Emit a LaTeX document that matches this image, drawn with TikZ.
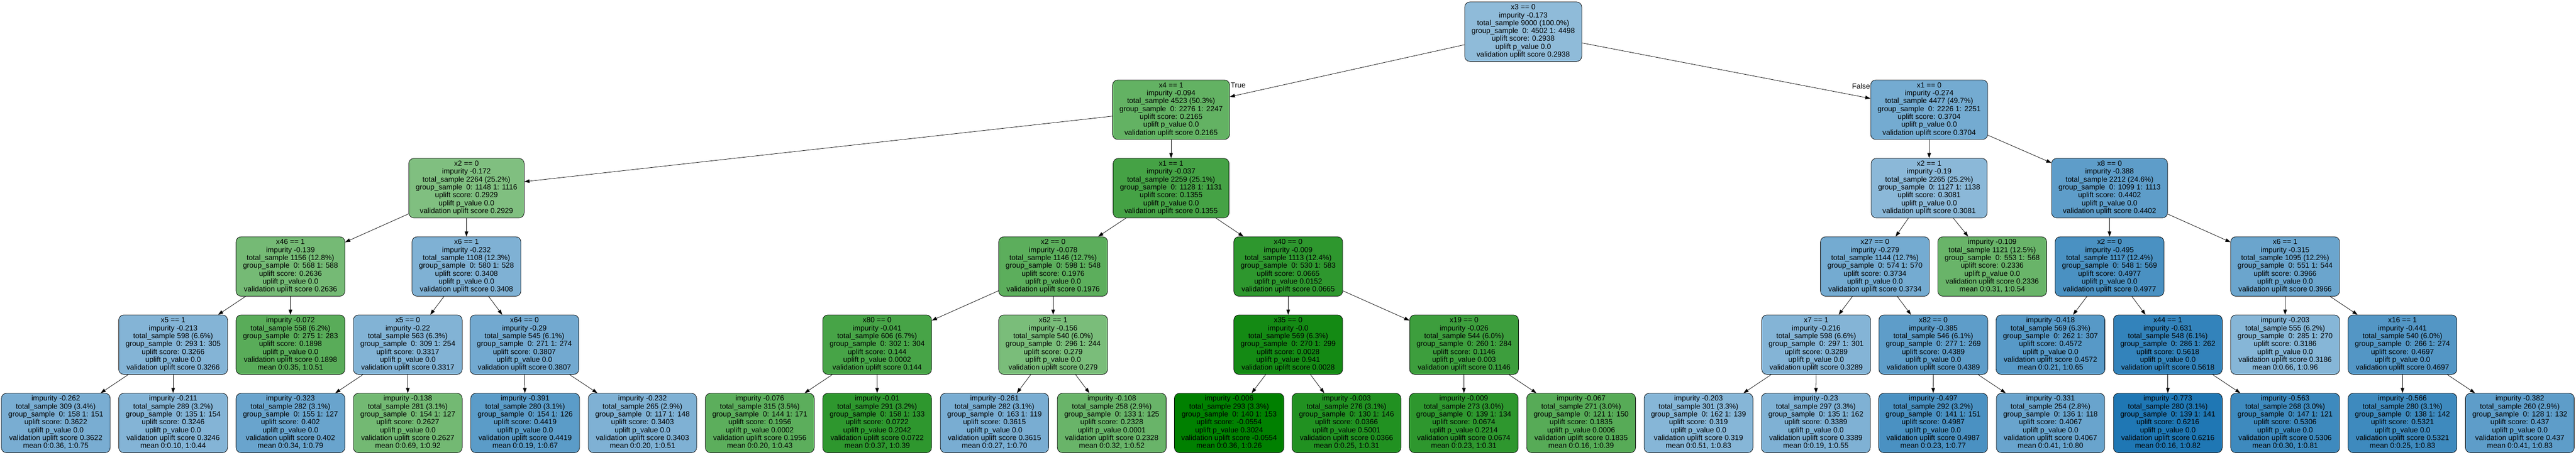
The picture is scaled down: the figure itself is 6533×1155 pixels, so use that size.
\documentclass[tikz,border=0pt]{standalone}
\usepackage{fontspec}
\setmainfont{Liberation Sans}
\usetikzlibrary{arrows.meta}
\definecolor{bl}{HTML}{1F77B4}
\definecolor{gr}{HTML}{008000}
\newcommand{\TreeInner}[7]{\begin{tabular}{@{}c@{}}#1\\impurity #2\\total\_sample #3\\group\_sample\ \ #4\\uplift score: #5\\uplift p\_value #6\\validation uplift score #7\end{tabular}}
\newcommand{\TreeLeaf}[7]{\begin{tabular}{@{}c@{}}impurity #1\\total\_sample #2\\group\_sample\ \ #3\\uplift score: #4\\uplift p\_value #5\\validation uplift score #6\\mean #7\end{tabular}}
\begin{document}
\begin{tikzpicture}[x=0.5pt,y=-0.5pt,
  nb/.style={rectangle, rounded corners=6.5pt, draw=black, line width=0.5pt,
    inner xsep=8.75pt, inner ysep=0pt, minimum width=136pt, minimum height=75.5pt,
    font=\fontsize{9.33pt}{10pt}\selectfont, text=black},
  lbl/.style={font=\fontsize{9.33pt}{10pt}\selectfont, inner sep=0pt, text=black},
  edge/.style={draw=black, line width=0.5pt, -{Triangle[length=6.5pt,width=4.5pt]}}]
\fill[white] (0,0) rectangle (6533,1155);
\useasboundingbox (0,0) rectangle (6533,1155);
% row 0
\node[nb, fill=bl!50!white] (R) at (3863,80.5) {\TreeInner{x3 == 0}{-0.173}{9000 (100.0\%)}{0: 4502 1: 4498}{0.2938}{0.0}{0.2938}};
% row 1
\node[nb, fill=gr!61!white] (A) at (2970,278.5) {\TreeInner{x4 == 1}{-0.094}{4523 (50.3\%)}{0: 2276 1: 2247}{0.2165}{0.0}{0.2165}};
\node[nb, fill=bl!62!white] (B) at (4892.5,278.5) {\TreeInner{x1 == 0}{-0.274}{4477 (49.7\%)}{0: 2226 1: 2251}{0.3704}{0.0}{0.3704}};
% row 2
\node[nb, fill=gr!50!white] (C) at (1183,477.5) {\TreeInner{x2 == 0}{-0.172}{2264 (25.2\%)}{0: 1148 1: 1116}{0.2929}{0.0}{0.2929}};
\node[nb, fill=gr!73!white] (D) at (2970,477.5) {\TreeInner{x1 == 1}{-0.037}{2259 (25.1\%)}{0: 1128 1: 1131}{0.1355}{0.0}{0.1355}};
\node[nb, fill=bl!52!white] (E) at (4892.5,477.5) {\TreeInner{x2 == 1}{-0.19}{2265 (25.2\%)}{0: 1127 1: 1138}{0.3081}{0.0}{0.3081}};
\node[nb, fill=bl!72!white] (F) at (5350,477.5) {\TreeInner{x8 == 0}{-0.388}{2212 (24.6\%)}{0: 1099 1: 1113}{0.4402}{0.0}{0.4402}};
% row 3
\node[nb, fill=gr!54!white] (G) at (736.6,676.5) {\TreeInner{x46 == 1}{-0.139}{1156 (12.8\%)}{0: 568 1: 588}{0.2636}{0.0}{0.2636}};
\node[nb, fill=bl!57!white] (H) at (1183,676.5) {\TreeInner{x6 == 1}{-0.232}{1108 (12.3\%)}{0: 580 1: 528}{0.3408}{0.0}{0.3408}};
\node[nb, fill=gr!64!white] (I) at (2670.9,676.5) {\TreeInner{x2 == 0}{-0.078}{1146 (12.7\%)}{0: 598 1: 548}{0.1976}{0.0}{0.1976}};
\node[nb, fill=gr!82!white] (J) at (3267,676.5) {\TreeInner{x40 == 0}{-0.009}{1113 (12.4\%)}{0: 530 1: 583}{0.0665}{0.0152}{0.0665}};
\node[nb, fill=bl!62!white] (K) at (4755,676.5) {\TreeInner{x27 == 0}{-0.279}{1144 (12.7\%)}{0: 574 1: 570}{0.3734}{0.0}{0.3734}};
\node[nb, fill=gr!59!white] (L) at (5052.5,676.5) {\TreeLeaf{-0.109}{1121 (12.5\%)}{0: 553 1: 568}{0.2336}{0.0}{0.2336}{0:0.31, 1:0.54}};
\node[nb, fill=bl!81!white] (M) at (5350,676.5) {\TreeInner{x2 == 0}{-0.495}{1117 (12.4\%)}{0: 548 1: 569}{0.4977}{0.0}{0.4977}};
\node[nb, fill=bl!66!white] (N) at (5795.3,676.5) {\TreeInner{x6 == 1}{-0.315}{1095 (12.2\%)}{0: 551 1: 544}{0.3966}{0.0}{0.3966}};
% row 4
\node[nb, fill=bl!55!white] (O) at (439.1,875) {\TreeInner{x5 == 1}{-0.213}{598 (6.6\%)}{0: 293 1: 305}{0.3266}{0.0}{0.3266}};
\node[nb, fill=gr!65!white] (P) at (736.6,875) {\TreeLeaf{-0.072}{558 (6.2\%)}{0: 275 1: 283}{0.1898}{0.0}{0.1898}{0:0.35, 1:0.51}};
\node[nb, fill=bl!56!white] (Q) at (1034.2,875) {\TreeInner{x5 == 0}{-0.22}{563 (6.3\%)}{0: 309 1: 254}{0.3317}{0.0}{0.3317}};
\node[nb, fill=bl!63!white] (Rr) at (1330,875) {\TreeInner{x64 == 0}{-0.29}{545 (6.1\%)}{0: 271 1: 274}{0.3807}{0.0}{0.3807}};
\node[nb, fill=gr!72!white] (S) at (2224.5,875) {\TreeInner{x80 == 0}{-0.041}{606 (6.7\%)}{0: 302 1: 304}{0.144}{0.0002}{0.144}};
\node[nb, fill=gr!52!white] (T) at (2670.9,875) {\TreeInner{x62 == 1}{-0.156}{540 (6.0\%)}{0: 296 1: 244}{0.279}{0.0}{0.279}};
\node[nb, fill=gr!92!white] (U) at (3267,875) {\TreeInner{x35 == 0}{-0.0}{569 (6.3\%)}{0: 270 1: 299}{0.0028}{0.941}{0.0028}};
\node[nb, fill=gr!76!white] (V) at (3713,875) {\TreeInner{x19 == 0}{-0.026}{544 (6.0\%)}{0: 260 1: 284}{0.1146}{0.003}{0.1146}};
\node[nb, fill=bl!55!white] (W) at (4606,875) {\TreeInner{x7 == 1}{-0.216}{598 (6.6\%)}{0: 297 1: 301}{0.3289}{0.0}{0.3289}};
\node[nb, fill=bl!72!white] (X) at (4903,875) {\TreeInner{x82 == 0}{-0.385}{546 (6.1\%)}{0: 277 1: 269}{0.4389}{0.0}{0.4389}};
\node[nb, fill=bl!75!white] (Y) at (5200.2,875) {\TreeLeaf{-0.418}{569 (6.3\%)}{0: 262 1: 307}{0.4572}{0.0}{0.4572}{0:0.21, 1:0.65}};
\node[nb, fill=bl!91!white] (Z) at (5497.8,875) {\TreeInner{x44 == 1}{-0.631}{548 (6.1\%)}{0: 286 1: 262}{0.5618}{0.0}{0.5618}};
\node[nb, fill=bl!54!white] (AA) at (5795.3,875) {\TreeLeaf{-0.203}{555 (6.2\%)}{0: 285 1: 270}{0.3186}{0.0}{0.3186}{0:0.66, 1:0.96}};
\node[nb, fill=bl!77!white] (AB) at (6092.9,875) {\TreeInner{x16 == 1}{-0.441}{540 (6.0\%)}{0: 266 1: 274}{0.4697}{0.0}{0.4697}};
% row 5
\node[nb, fill=bl!60!white] (L0) at (141.5,1073.8) {\TreeLeaf{-0.262}{309 (3.4\%)}{0: 158 1: 151}{0.3622}{0.0}{0.3622}{0:0.36, 1:0.75}};
\node[nb, fill=bl!55!white] (L1) at (439.1,1073.8) {\TreeLeaf{-0.211}{289 (3.2\%)}{0: 135 1: 154}{0.3246}{0.0}{0.3246}{0:0.10, 1:0.44}};
\node[nb, fill=bl!67!white] (L2) at (736.6,1073.8) {\TreeLeaf{-0.323}{282 (3.1\%)}{0: 155 1: 127}{0.402}{0.0}{0.402}{0:0.34, 1:0.79}};
\node[nb, fill=gr!55!white] (L3) at (1034.2,1073.8) {\TreeLeaf{-0.138}{281 (3.1\%)}{0: 154 1: 127}{0.2627}{0.0}{0.2627}{0:0.69, 1:0.92}};
\node[nb, fill=bl!73!white] (L4) at (1331.8,1073.8) {\TreeLeaf{-0.391}{280 (3.1\%)}{0: 154 1: 126}{0.4419}{0.0}{0.4419}{0:0.19, 1:0.67}};
\node[nb, fill=bl!57!white] (L5) at (1629.4,1073.8) {\TreeLeaf{-0.232}{265 (2.9\%)}{0: 117 1: 148}{0.3403}{0.0}{0.3403}{0:0.20, 1:0.51}};
\node[nb, fill=gr!64!white] (L6) at (1926.9,1073.8) {\TreeLeaf{-0.076}{315 (3.5\%)}{0: 144 1: 171}{0.1956}{0.0002}{0.1956}{0:0.20, 1:0.43}};
\node[nb, fill=gr!82!white] (L7) at (2224.5,1073.8) {\TreeLeaf{-0.01}{291 (3.2\%)}{0: 158 1: 133}{0.0722}{0.2042}{0.0722}{0:0.37, 1:0.39}};
\node[nb, fill=bl!60!white] (L8) at (2522.1,1073.8) {\TreeLeaf{-0.261}{282 (3.1\%)}{0: 163 1: 119}{0.3615}{0.0}{0.3615}{0:0.27, 1:0.70}};
\node[nb, fill=gr!59!white] (L9) at (2819.6,1073.8) {\TreeLeaf{-0.108}{258 (2.9\%)}{0: 133 1: 125}{0.2328}{0.0001}{0.2328}{0:0.32, 1:0.52}};
\node[nb, fill=gr!100!white] (L10) at (3117.2,1073.8) {\TreeLeaf{-0.006}{293 (3.3\%)}{0: 140 1: 153}{-0.0554}{0.3024}{-0.0554}{0:0.36, 1:0.26}};
\node[nb, fill=gr!87!white] (L11) at (3414.8,1073.8) {\TreeLeaf{-0.003}{276 (3.1\%)}{0: 130 1: 146}{0.0366}{0.5001}{0.0366}{0:0.25, 1:0.31}};
\node[nb, fill=gr!82!white] (L12) at (3712.3,1073.8) {\TreeLeaf{-0.009}{273 (3.0\%)}{0: 139 1: 134}{0.0674}{0.2214}{0.0674}{0:0.23, 1:0.31}};
\node[nb, fill=gr!66!white] (L13) at (4009.9,1073.8) {\TreeLeaf{-0.067}{271 (3.0\%)}{0: 121 1: 150}{0.1835}{0.0006}{0.1835}{0:0.16, 1:0.39}};
\node[nb, fill=bl!54!white] (L14) at (4307.5,1073.8) {\TreeLeaf{-0.203}{301 (3.3\%)}{0: 162 1: 139}{0.319}{0.0}{0.319}{0:0.51, 1:0.83}};
\node[nb, fill=bl!57!white] (L15) at (4605.1,1073.8) {\TreeLeaf{-0.23}{297 (3.3\%)}{0: 135 1: 162}{0.3389}{0.0}{0.3389}{0:0.19, 1:0.55}};
\node[nb, fill=bl!81!white] (L16) at (4902.6,1073.8) {\TreeLeaf{-0.497}{292 (3.2\%)}{0: 141 1: 151}{0.4987}{0.0}{0.4987}{0:0.23, 1:0.77}};
\node[nb, fill=bl!67!white] (L17) at (5200.2,1073.8) {\TreeLeaf{-0.331}{254 (2.8\%)}{0: 136 1: 118}{0.4067}{0.0}{0.4067}{0:0.41, 1:0.80}};
\node[nb, fill=bl!100!white] (L18) at (5497.8,1073.8) {\TreeLeaf{-0.773}{280 (3.1\%)}{0: 139 1: 141}{0.6216}{0.0}{0.6216}{0:0.16, 1:0.82}};
\node[nb, fill=bl!86!white] (L19) at (5795.3,1073.8) {\TreeLeaf{-0.563}{268 (3.0\%)}{0: 147 1: 121}{0.5306}{0.0}{0.5306}{0:0.30, 1:0.81}};
\node[nb, fill=bl!86!white] (L20) at (6092.9,1073.8) {\TreeLeaf{-0.566}{280 (3.1\%)}{0: 138 1: 142}{0.5321}{0.0}{0.5321}{0:0.25, 1:0.83}};
\node[nb, fill=bl!72!white] (L21) at (6390.5,1073.8) {\TreeLeaf{-0.382}{260 (2.9\%)}{0: 128 1: 132}{0.437}{0.0}{0.437}{0:0.41, 1:0.83}};
% edge labels
\node[lbl, anchor=west] (tT) at (3121,217) {True};
\node[lbl, anchor=east] (tF) at (4743,219) {False};
% edges
\foreach \a/\b in {R/A, R/B, A/C, A/D, B/E, B/F, C/G, C/H, D/I, D/J, E/K, E/L, F/M, F/N,
  G/O, G/P, H/Q, H/Rr, I/S, I/T, J/U, J/V, K/W, K/X, M/Y, M/Z, N/AA, N/AB,
  O/L0, O/L1, Q/L2, Q/L3, Rr/L4, Rr/L5, S/L6, S/L7, T/L8, T/L9, U/L10, U/L11,
  V/L12, V/L13, W/L14, W/L15, X/L16, X/L17, Z/L18, Z/L19, AB/L20, AB/L21}
  \draw[edge] (\a) -- (\b);
\end{tikzpicture}
\end{document}
